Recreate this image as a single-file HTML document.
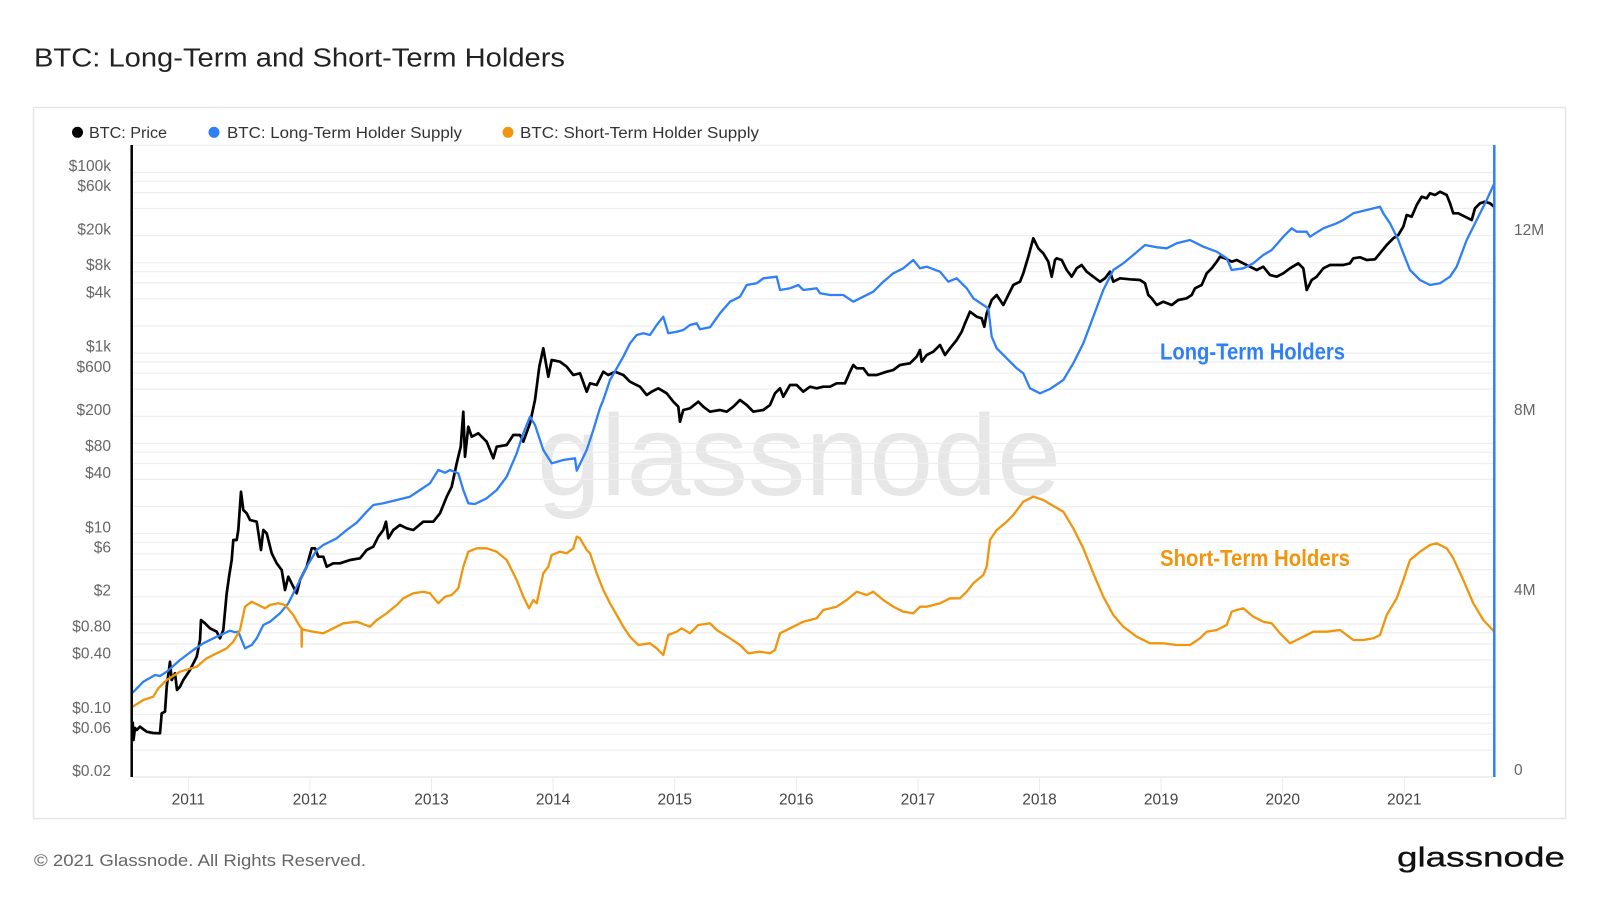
<!DOCTYPE html>
<html>
<head>
<meta charset="utf-8">
<style>
html,body{margin:0;padding:0;background:#fff;}
svg{display:block;}
text{font-family:"Liberation Sans",sans-serif;}
</style>
</head>
<body>
<svg width="1600" height="900" viewBox="0 0 1600 900" xmlns="http://www.w3.org/2000/svg">
<rect x="0" y="0" width="1600" height="900" fill="#fff"/>
<!-- Title -->
<text x="34" y="66.5" font-size="25.5" fill="#222" textLength="531" lengthAdjust="spacingAndGlyphs">BTC: Long-Term and Short-Term Holders</text>
<!-- Box -->
<rect x="33.5" y="107.5" width="1532" height="711" fill="none" stroke="#e6e6e6" stroke-width="1.5"/>
<!-- Legend -->
<circle cx="77.5" cy="132.3" r="5.5" fill="#000"/>
<text x="89" y="137.8" font-size="15.5" fill="#333" textLength="78" lengthAdjust="spacingAndGlyphs">BTC: Price</text>
<circle cx="214" cy="132.3" r="5.5" fill="#2f80f6"/>
<text x="227" y="137.8" font-size="15.5" fill="#333" textLength="235" lengthAdjust="spacingAndGlyphs">BTC: Long-Term Holder Supply</text>
<circle cx="508" cy="132.3" r="5.5" fill="#f0960e"/>
<text x="520" y="137.8" font-size="15.5" fill="#333" textLength="239" lengthAdjust="spacingAndGlyphs">BTC: Short-Term Holder Supply</text>

<!-- Watermark -->
<text x="537" y="495" font-size="115" fill="#e7e7e7" textLength="524" lengthAdjust="spacingAndGlyphs">glassnode</text>

<!-- Gridlines -->
<g stroke="#eeeeee" stroke-width="1.2">
<line x1="132" x2="1494" y1="145.3" y2="145.3"/>
<line x1="132" x2="1494" y1="172.5" y2="172.5"/>
<line x1="132" x2="1494" y1="181.3" y2="181.3"/>
<line x1="132" x2="1494" y1="192.6" y2="192.6"/>
<line x1="132" x2="1494" y1="208.5" y2="208.5"/>
<line x1="132" x2="1494" y1="235.7" y2="235.7"/>
<line x1="132" x2="1494" y1="262.8" y2="262.8"/>
<line x1="132" x2="1494" y1="271.6" y2="271.6"/>
<line x1="132" x2="1494" y1="282.9" y2="282.9"/>
<line x1="132" x2="1494" y1="298.8" y2="298.8"/>
<line x1="132" x2="1494" y1="326.0" y2="326.0"/>
<line x1="132" x2="1494" y1="353.1" y2="353.1"/>
<line x1="132" x2="1494" y1="361.9" y2="361.9"/>
<line x1="132" x2="1494" y1="373.2" y2="373.2"/>
<line x1="132" x2="1494" y1="389.1" y2="389.1"/>
<line x1="132" x2="1494" y1="416.3" y2="416.3"/>
<line x1="132" x2="1494" y1="443.4" y2="443.4"/>
<line x1="132" x2="1494" y1="452.2" y2="452.2"/>
<line x1="132" x2="1494" y1="463.5" y2="463.5"/>
<line x1="132" x2="1494" y1="479.4" y2="479.4"/>
<line x1="132" x2="1494" y1="506.6" y2="506.6"/>
<line x1="132" x2="1494" y1="533.7" y2="533.7"/>
<line x1="132" x2="1494" y1="542.5" y2="542.5"/>
<line x1="132" x2="1494" y1="553.8" y2="553.8"/>
<line x1="132" x2="1494" y1="569.6" y2="569.6"/>
<line x1="132" x2="1494" y1="596.8" y2="596.8"/>
<line x1="132" x2="1494" y1="624.0" y2="624.0"/>
<line x1="132" x2="1494" y1="632.8" y2="632.8"/>
<line x1="132" x2="1494" y1="644.0" y2="644.0"/>
<line x1="132" x2="1494" y1="659.9" y2="659.9"/>
<line x1="132" x2="1494" y1="687.1" y2="687.1"/>
<line x1="132" x2="1494" y1="714.3" y2="714.3"/>
<line x1="132" x2="1494" y1="723.1" y2="723.1"/>
<line x1="132" x2="1494" y1="734.3" y2="734.3"/>
<line x1="132" x2="1494" y1="750.2" y2="750.2"/>
</g>
<line x1="132" x2="1494" y1="777" y2="777" stroke="#e4e4e4" stroke-width="1.2"/>
<!-- year ticks -->
<g stroke="#ececec" stroke-width="1">
<line x1="188.3" x2="188.3" y1="777" y2="793"/>
<line x1="309.9" x2="309.9" y1="777" y2="793"/>
<line x1="431.5" x2="431.5" y1="777" y2="793"/>
<line x1="553.1" x2="553.1" y1="777" y2="793"/>
<line x1="674.7" x2="674.7" y1="777" y2="793"/>
<line x1="796.3" x2="796.3" y1="777" y2="793"/>
<line x1="917.9" x2="917.9" y1="777" y2="793"/>
<line x1="1039.5" x2="1039.5" y1="777" y2="793"/>
<line x1="1161.1" x2="1161.1" y1="777" y2="793"/>
<line x1="1282.7" x2="1282.7" y1="777" y2="793"/>
<line x1="1404.3" x2="1404.3" y1="777" y2="793"/>
</g>

<!-- Y labels left -->
<g font-size="15.5" fill="#666" text-anchor="end">
<text x="111" y="171.2">$100k</text>
<text x="111" y="191.2">$60k</text>
<text x="111" y="234.3">$20k</text>
<text x="111" y="270.2">$8k</text>
<text x="111" y="297.4">$4k</text>
<text x="111" y="351.7">$1k</text>
<text x="111" y="371.8">$600</text>
<text x="111" y="414.9">$200</text>
<text x="111" y="450.8">$80</text>
<text x="111" y="478.0">$40</text>
<text x="111" y="532.3">$10</text>
<text x="111" y="552.3">$6</text>
<text x="111" y="595.4">$2</text>
<text x="111" y="631.4">$0.80</text>
<text x="111" y="658.5">$0.40</text>
<text x="111" y="712.9">$0.10</text>
<text x="111" y="732.9">$0.06</text>
<text x="111" y="776.0">$0.02</text>
</g>
<!-- Y labels right -->
<g font-size="15.5" fill="#666">
<text x="1514" y="234.8">12M</text>
<text x="1514" y="414.8">8M</text>
<text x="1514" y="594.8">4M</text>
<text x="1514" y="774.8">0</text>
</g>
<!-- Year labels -->
<g font-size="15.5" fill="#444" text-anchor="middle">
<text x="188.3" y="804.5">2011</text>
<text x="309.9" y="804.5">2012</text>
<text x="431.5" y="804.5">2013</text>
<text x="553.1" y="804.5">2014</text>
<text x="674.7" y="804.5">2015</text>
<text x="796.3" y="804.5">2016</text>
<text x="917.9" y="804.5">2017</text>
<text x="1039.5" y="804.5">2018</text>
<text x="1161.1" y="804.5">2019</text>
<text x="1282.7" y="804.5">2020</text>
<text x="1404.3" y="804.5">2021</text>
</g>

<!-- Price -->
<polyline fill="none" stroke="#000" stroke-width="2.7" stroke-linejoin="round" points="
132.7,721.7 133.5,740 135,728 136.7,730 140,726.7 143,729 146.7,731.7 153,733 160,733.3 161.7,713.3 165,711.7 166.7,686.7 170,661.7 171.7,680 175,673.3 177,690 180,686.7 183.3,680 190,670 196.7,656.7 200,640 201,620 205,623.3 210,628.3 216.7,631.7 220,638.3 223.3,630 226.7,593.3 229.3,575 231.7,560 233.3,540 236.7,540 238.3,530 241,491.7 243.3,510 246.7,513.3 250,520 256.7,521.7 261,550 263.3,530 266.7,533.3 271.7,553.3 276.7,563.3 281.7,570 285,590 288.3,576.7 293.3,586.7 296.7,593.3 300,580 306.7,566.7 311.7,548.3 315,548.3 318.3,556.7 323.3,556.7 326.7,566.7 333.3,563.3 340,563.3 350,560 360,558.3 366.7,550 373.3,546.7 378.3,536.7 383.3,530 386,521.7 388.3,538.3 393.3,530 400,525 406.7,528.3 413.3,530 423.3,521.7 433.3,521.7 440,513.3 446.7,496.7 451.7,486.7 456.7,463.3 460.7,446.7 463.3,411.7 465,456.7 468.3,426.7 471.7,436.7 478.3,433.3 486.7,441.7 493.3,458.3 496.7,446.7 506.7,445 513.3,435 520,435 523.3,441.7 530,423.3 535,400 539.3,366.7 543.3,348.3 548.3,376.7 551.7,360 560,361.7 566.7,366.7 573.3,375 580,373.3 586.7,391.7 590,383.3 596.7,385 603.3,371.7 608.3,375 615,371.7 623.3,375 630,381.7 640,386.7 646.7,395 651.7,391.7 658.3,388.3 666.7,393.3 673.3,401.7 678.3,406.7 680,421.7 683.3,410 690,408.3 698.3,401.7 703.3,406.7 710,411.7 720,410 726.7,411.7 733.3,406.7 740,400 746.7,405 753.3,411.7 763.3,410 770,405 775,393.3 780,388.3 783.3,396.7 790,385 796.7,385 803.3,391.7 810,386.7 816.7,388.3 823.3,386.7 830,386.7 836.7,383.3 845,383.3 850,371.7 853.3,365 856.7,368.3 863.3,368.3 868.3,375 876.7,375 886.7,371.7 893.3,370 900,365 910,363.3 916.7,356.7 920,350 921.7,361.7 926.7,355 933.3,351.7 940,345 945,355 950,348.3 956.7,340 961.7,331.7 965,323.3 970,311.7 976.7,316.7 981.7,318.3 984.3,326.7 986.7,313.3 991.7,300 996.7,295 1003.3,305 1008.3,295 1013.3,285 1020,281.7 1023.3,273.3 1028.3,256.7 1033.3,238.3 1038.3,248.3 1043.3,253.3 1048.3,261.7 1051.7,276.7 1055,260 1056.7,258.3 1061.7,260 1066.7,270 1071.7,276.7 1076.7,268.3 1081.7,265 1086.7,271.7 1093.3,276.7 1100,281.7 1105,278.3 1110,271.7 1113.3,281.7 1120,278.3 1130,279.3 1140,280 1145,283.3 1148.3,295 1151.7,298.3 1156.7,305 1163.3,301.7 1171.7,305 1178.3,300 1186.7,298.3 1191.7,295 1195,288.3 1201.7,285 1206.7,273.3 1211.7,268.3 1216.7,261.7 1220,256.7 1225,258.3 1231.7,261.7 1236.7,260 1243.3,263.3 1250,266.7 1256.7,270 1263.3,266.7 1270,275 1276.7,276.7 1283.3,273.3 1290,268.3 1298.3,263.3 1303.3,268.3 1306.7,290 1311.7,280 1316.7,276.7 1323.3,268.3 1330,265 1336.7,265 1343.3,265 1350,263.3 1353.3,258.3 1360,257.3 1366.7,260 1375,259.3 1380,253.3 1386.7,245 1393.3,238.3 1398.3,235 1403.3,226.7 1406.7,215 1411.7,216.7 1416.7,205 1421.7,196.7 1426.7,198.3 1430,193.3 1435,195 1440,191.7 1446.7,195 1450,203.3 1453.3,213.3 1458.3,213.3 1465,216.7 1471.7,220 1475,208.3 1480,203.3 1485,201.7 1490,203.3 1494,206.7"/>

<!-- LTH -->
<polyline fill="none" stroke="#2f80f6" stroke-width="2.3" stroke-linejoin="round" points="
132.7,692.7 143.3,681.7 155,675 160,676 166.7,671.7 180,660 193.3,650 203.3,643.3 216.7,636.7 230,630.7 235,632.3 238.3,631.7 245,648.3 251.7,645 256.7,638.3 263.3,625 270,621.7 280,613.3 288.3,603.3 296.7,586.7 306.7,566.7 316.7,550 323.3,545 336.7,538.3 346.7,530 356.7,522.7 366.7,511.7 373.3,505 383.3,503.3 396.7,500 410,496.7 420,490 430,483.3 438.3,470 445,472.7 450,470 458.3,473.3 463.3,490 468.3,503.3 475,504 486.7,498.3 496.7,490 506.7,476.7 516.7,453.3 523.3,433.3 530,416.7 535,425 543.3,450 551.7,463.3 563.3,460 575,458.3 576.7,470.7 586.7,450 593.3,430 600,408 603.3,400 610,380 616.7,368.3 623.3,356.7 630,343.3 636.7,335 643.3,333.3 650,335 656.7,325 663.3,316.7 668.3,333.3 676.7,331.7 683.3,330 690,325 696.7,323.3 700,329.3 710,327.3 720,313.3 730,301.7 740,296.7 746.7,285 756.7,283.3 763.3,278.3 776.7,276.7 780,290 790,288.3 798.3,285 803.3,290 816.7,288.3 820,293.3 830,295 843.3,295 853.3,301.7 863.3,296.7 873.3,291.7 883.3,281.7 893.3,273.3 903.3,268.3 913.3,260 920,268.3 926.7,266.7 940,271.7 948.3,281.7 956.7,278.3 966.7,288.3 973.3,298.3 983.3,305 988.3,308.3 991.7,336.7 996.7,348.3 1006.7,358.3 1016.7,368.3 1023.3,373.3 1030,388.3 1040,393.3 1050,389 1063.3,380 1073.3,363.3 1083.3,343.3 1093.3,316.7 1103.3,290 1113.3,270 1123.3,263.3 1133.3,255 1145,245 1156.7,247.3 1166.7,248.3 1176.7,243.3 1190,240 1203.3,246.7 1216.7,251.7 1226.7,258.3 1231.7,270 1243.3,268.3 1253.3,263.3 1263.3,255 1271.7,250 1283.3,236.7 1291.7,228.3 1296.7,231.7 1306.7,231.7 1310,236.7 1323.3,228.3 1336.7,223.3 1343.3,220 1353.3,213.3 1366.7,210 1380,206.7 1383.3,213.3 1390,223.3 1398.3,240 1403.3,253.3 1410,270 1420,280 1430,285 1440,283.3 1450,276.7 1456.7,266.7 1466.7,240 1476.7,220 1486.7,200 1494.3,183.3"/>

<!-- STH -->
<polyline fill="none" stroke="#f0960e" stroke-width="2.3" stroke-linejoin="round" points="
132.7,706.7 143.3,700 153.3,696.7 158.3,688.3 166.7,680 180,671.7 196.7,666.7 206.7,658.3 216.7,653.3 226.7,648.3 233.3,641.7 240,630 245,606.7 251.7,601.7 258.3,605 265,608.3 270,605 278.3,603.3 285,605 293.3,615 300,626.7 301.5,628 301.7,646.7 302,629 305,630 313.3,631.7 323.3,633.3 333.3,628.3 343.3,623.3 356.7,621.7 370,626.7 376.7,620 386.7,613.3 396.7,605 403.3,598.3 413.3,593.3 423.3,591.7 430,593.3 438.3,603.3 445,596.7 451.7,595 458.3,588.3 463.3,566.7 468.3,551.7 476.7,548.3 486.7,548.3 496.7,551.7 506.7,560 516.7,580 523.3,596.7 529,608.3 533.3,600 536.7,603.3 543.3,573.3 548.3,566.7 551.7,555 560,551.7 566.7,553.3 573.3,548.3 576.7,536.7 580,538.3 586.7,550 590,553.3 596.7,573.3 603.3,590 610,603.3 616.7,615 623.3,626.7 630,636.7 638.3,645 650,643.3 656.7,648.3 663.3,655 668.3,635 676.7,631.7 681.7,628.3 690,633.3 698.3,625 710,623.3 716.7,630 730,638.3 740,645 748.3,653.3 760,651.7 770,653.3 775,650 780,633.3 790,628.3 803.3,621.7 816.7,618.3 823.3,610 836.7,606.7 846.7,600 856.7,591.7 866.7,595 873.3,591.7 883.3,600 893.3,606.7 903.3,611.7 913.3,613.3 920,606.7 926.7,606.7 940,603.3 950,598.3 960,598.3 966.7,591.7 973.3,583.3 983.3,575 986.7,566.7 990,540 996.7,530 1006.7,521.7 1013.3,515 1023.3,501.7 1033.3,496.7 1043.3,500 1050,504 1063.3,511.7 1073.3,528.3 1083.3,548.3 1093.3,573.3 1103.3,596.7 1113.3,615 1123.3,626.7 1136.7,636.7 1150,643.3 1163.3,643.3 1176.7,645 1190,645 1200,638.3 1206.7,631.7 1216.7,630 1226.7,625 1231.7,611.7 1236.7,610 1243.3,608.3 1253.3,616.7 1263.3,621.7 1271.7,623.3 1280,633.3 1290,643.3 1296.7,640 1303.3,636.7 1313.3,631.7 1326.7,631.7 1340,630 1346.7,635 1353.3,640 1363.3,640 1373.3,638.3 1380,635 1386.7,615 1396.7,598.3 1403.3,580 1410,560 1420,551.7 1430,545 1436.7,543.3 1446.7,548.3 1453.3,558.3 1463.3,580 1473.3,603.3 1483.3,620 1494.3,631.7"/>

<!-- Axes -->
<line x1="131.7" x2="131.7" y1="145" y2="777" stroke="#000" stroke-width="2.5"/>
<line x1="1494.3" x2="1494.3" y1="145" y2="777" stroke="#2f80f6" stroke-width="2.5"/>

<!-- Annotations -->
<text x="1160" y="359.5" font-size="23" font-weight="bold" fill="#2f80f6" textLength="185" lengthAdjust="spacingAndGlyphs">Long-Term Holders</text>
<text x="1160" y="566" font-size="23" font-weight="bold" fill="#f0960e" textLength="190" lengthAdjust="spacingAndGlyphs">Short-Term Holders</text>

<!-- Footer -->
<text x="34" y="865.8" font-size="16.5" fill="#666" textLength="332" lengthAdjust="spacingAndGlyphs">© 2021 Glassnode. All Rights Reserved.</text>
<text x="1397" y="866.7" font-size="27.5" fill="#111" stroke="#111" stroke-width="0.3" textLength="168" lengthAdjust="spacingAndGlyphs">glassnode</text>
</svg>
</body>
</html>
